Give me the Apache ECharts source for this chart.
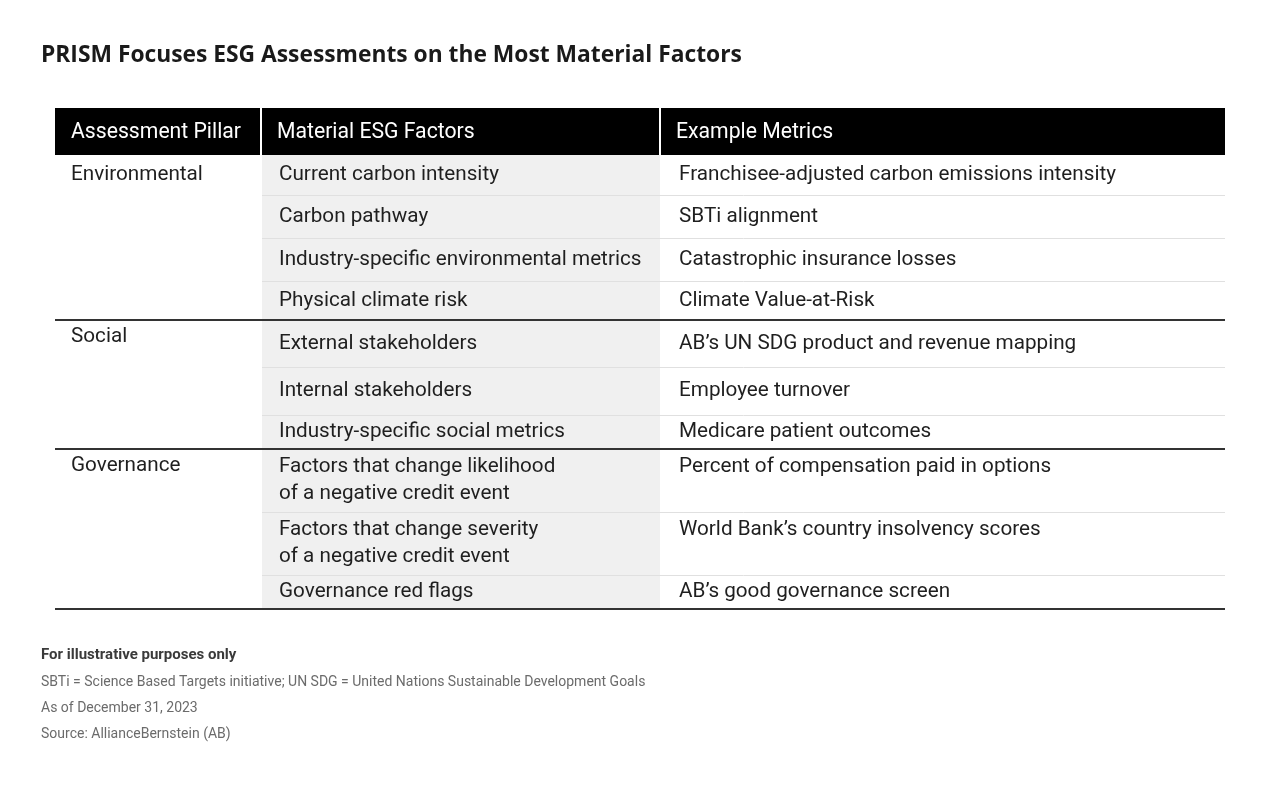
<!DOCTYPE html>
<html>
<head>
<meta charset="utf-8">
<title>PRISM ESG table</title>
<script src="https://cdn.jsdelivr.net/npm/echarts@6/dist/echarts.min.js"></script>
<style>
  html, body { margin: 0; padding: 0; background: #fff; }
  #main-chart { width: 1280px; height: 789px; }
</style>
</head>
<body>
<div id="main-chart"></div>
<script>
// table content
const title = 'PRISM Focuses ESG Assessments on the Most Material Factors';
const headers = ['Assessment Pillar', 'Material ESG Factors', 'Example Metrics'];
const pillars = ['Environmental', 'Social', 'Governance'];
const pillarRows = [4, 3, 3]; // how many factor rows each pillar spans
const factors = [
    ['Current carbon intensity'],
    ['Carbon pathway'],
    ['Industry-specific environmental metrics'],
    ['Physical climate risk'],
    ['External stakeholders'],
    ['Internal stakeholders'],
    ['Industry-specific social metrics'],
    ['Factors that change likelihood', 'of a negative credit event'],
    ['Factors that change severity', 'of a negative credit event'],
    ['Governance red flags']
];
const metrics = [
    'Franchisee-adjusted carbon emissions intensity',
    'SBTi alignment',
    'Catastrophic insurance losses',
    'Climate Value-at-Risk',
    'AB\u2019s UN SDG product and revenue mapping',
    'Employee turnover',
    'Medicare patient outcomes',
    'Percent of compensation paid in options',
    'World Bank\u2019s country insolvency scores',
    'AB\u2019s good governance screen'
];
const notes = [
    'For illustrative purposes only',
    'SBTi = Science Based Targets initiative; UN SDG = United Nations Sustainable Development Goals',
    'As of December 31, 2023',
    'Source: AllianceBernstein (AB)'
];

// layout (pixels)
const LEFT = 55, RIGHT = 1225;
const COL_X = [55, 261, 660];       // column left edges
const HEAD_TOP = 108, HEAD_BOTTOM = 155;
const ROW_H = [40, 43, 43, 39, 47, 48, 34, 63, 63, 34];
const LINE_GAP = 27;
const FONT = '"Roboto", "Liberation Sans", sans-serif';
const BODY_FONT = '20.7px ' + FONT;
const TEXT_COLOR = '#1f1f1f';

let chart = echarts.init(document.getElementById('main-chart'), null, { renderer: 'canvas' });

function txt(text, x, y, font, fill) {
    return {
        type: 'text',
        x: x,
        y: y,
        silent: true,
        style: { text: text, font: font, fill: fill, verticalAlign: 'middle', align: 'left' }
    };
}
function hline(x1, x2, y, color, w) {
    return {
        type: 'line',
        silent: true,
        shape: { x1: x1, y1: y, x2: x2, y2: y },
        style: { stroke: color, lineWidth: w }
    };
}

let elements = [];

// title
elements.push(txt(title, 41, 56, 'bold 22.8px "Open Sans", ' + FONT, '#1a1a1a'));

// header band
elements.push({ type: 'rect', silent: true, shape: { x: LEFT, y: HEAD_TOP, width: RIGHT - LEFT, height: HEAD_BOTTOM - HEAD_TOP }, style: { fill: '#000' } });
// white gaps between header cells
[COL_X[1], COL_X[2]].forEach(x => {
    elements.push({ type: 'rect', silent: true, shape: { x: x - 1, y: HEAD_TOP, width: 2, height: HEAD_BOTTOM - HEAD_TOP }, style: { fill: '#fff' } });
});
headers.forEach((h, i) => {
    elements.push(txt(h, COL_X[i] + 16, (HEAD_TOP + HEAD_BOTTOM) / 2 + 1, '21.2px ' + FONT, '#fff'));
});

// row tops
let rowTop = [];
let y = HEAD_BOTTOM;
ROW_H.forEach(h => { rowTop.push(y); y += h; });
const tableBottom = y;

// grey factor column
elements.push({ type: 'rect', silent: true, shape: { x: COL_X[1] + 1, y: HEAD_BOTTOM, width: COL_X[2] - COL_X[1] - 1, height: tableBottom - HEAD_BOTTOM }, style: { fill: '#f0f0f0' } });

// rows
let groupStart = [];
let acc = 0;
pillarRows.forEach(n => { groupStart.push(acc); acc += n; });

factors.forEach((lines, r) => {
    const top = rowTop[r], h = ROW_H[r];
    const mid = top + h / 2;
    const first = mid - (lines.length - 1) * LINE_GAP / 2;
    lines.forEach((l, k) => {
        elements.push(txt(l, COL_X[1] + 18, first + k * LINE_GAP, BODY_FONT, TEXT_COLOR));
    });
    elements.push(txt(metrics[r], COL_X[2] + 19, first, BODY_FONT, TEXT_COLOR));
    // thin separator unless the row ends a group
    const endsGroup = groupStart.indexOf(r + 1) >= 0 || r === factors.length - 1;
    if (!endsGroup) {
        elements.push(hline(COL_X[1] + 1, RIGHT, top + h + 0.5, '#e0e0e0', 1));
    }
});

// pillar labels and group dividers
pillars.forEach((p, g) => {
    const top = rowTop[groupStart[g]];
    elements.push(txt(p, COL_X[0] + 16, top + 17 + (g === 0 ? 3 : 0), BODY_FONT, TEXT_COLOR));
    if (g > 0) elements.push(hline(LEFT, RIGHT, top, '#333', 2));
});
elements.push(hline(LEFT, RIGHT, tableBottom, '#333', 2));

// notes
const NOTE_Y = [655, 682, 708, 734];
notes.forEach((n, i) => {
    elements.push(txt(n, 41, NOTE_Y[i], (i === 0 ? 'bold 15px ' : '14px ') + FONT, i === 0 ? '#3a3a3a' : '#6b6b6b'));
});

chart.setOption({
    backgroundColor: '#fff',
    animation: false,
    graphic: { elements: elements }
});

window.addEventListener('resize', function () {
    chart.resize();
});
</script>
</body>
</html>
